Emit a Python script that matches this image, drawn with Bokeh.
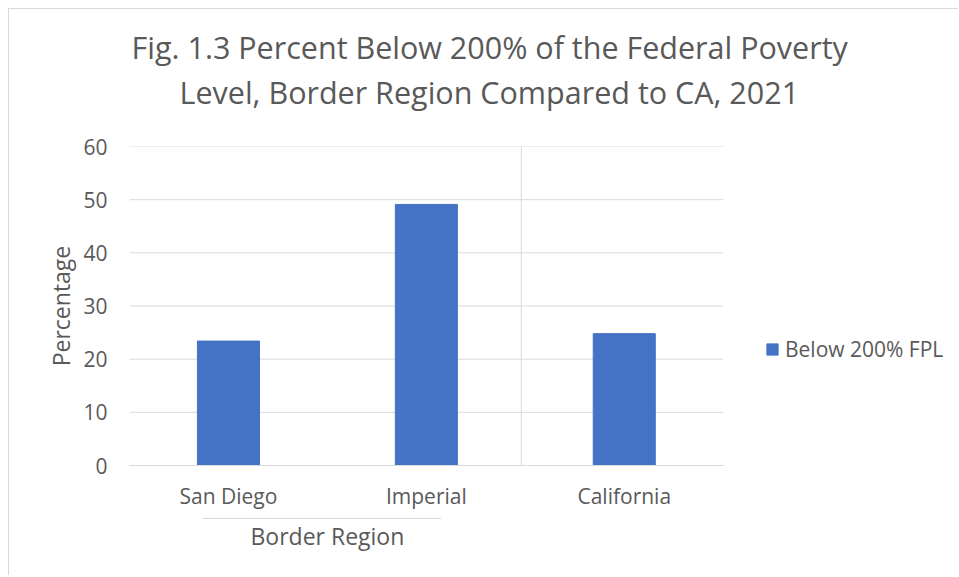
from bokeh.plotting import figure
from bokeh.models import (ColumnDataSource, FixedTicker, Span, Range1d, LinearAxis, Title)
from bokeh.embed import file_html
from bokeh.resources import INLINE

# ---- data ----
categories = ["San Diego", "Imperial", "California"]
values = [23.4, 49.1, 24.8]
series_name = "Below 200% FPL"
group_name = "Border Region"
title_lines = ["Fig. 1.3 Percent Below 200% of the Federal Poverty",
               "Level, Border Region Compared to CA, 2021"]
y_ticks = [0, 10, 20, 30, 40, 50, 60]

FONT = "Open Sans"
TXT = "#595959"
GRID = "#d9d9d9"
BAR = "#4472C4"

n = len(categories)
xpos = [i + 0.5 for i in range(n)]
src = ColumnDataSource(dict(x=xpos, top=values, cat=categories))

# the frame runs to the right edge so that the legend can sit inside it;
# the category area covers x = 0..n
p = figure(width=950, height=567, output_backend="svg", toolbar_location=None,
           x_range=Range1d(0, 4.194), y_range=Range1d(0, 60))
p.min_border_left = 120
p.min_border_right = 0
p.min_border_top = 137
p.min_border_bottom = 111
p.outline_line_color = None
p.background_fill_color = "white"
p.border_fill_color = "white"
p.styles = {"margin-left": "8px", "margin-top": "8px",
            "border-left": f"1px solid {GRID}", "border-top": f"1px solid {GRID}"}

# title: line 1 on top, line 2 (added later) nearest to the frame
p.title.text = title_lines[0]
p.title.align = "left"
p.title.offset = 2
p.title.text_font = FONT
p.title.text_font_size = "30.5px"
p.title.text_font_style = "normal"
p.title.text_color = TXT
p.title.standoff = -67
t2 = Title(text=title_lines[1], align="left", offset=50, text_font=FONT,
           text_font_size="30.5px", text_font_style="normal", text_color=TXT, standoff=68)
p.add_layout(t2, "above")

# horizontal grid lines over the category area only
p.segment(x0=[0] * len(y_ticks), x1=[n] * len(y_ticks), y0=y_ticks, y1=y_ticks,
          line_color=GRID, line_width=1)

p.vbar(x="x", top="top", width=0.3135, source=src, color=BAR, legend_label=series_name)

# category axis
p.xaxis.bounds = (0, n)
p.xaxis.ticker = FixedTicker(ticks=xpos)
p.xaxis.major_label_overrides = {x: c for x, c in zip(xpos, categories)}
p.xaxis.axis_line_color = GRID
p.xaxis.major_tick_line_color = None
p.xaxis.major_tick_out = 0
p.xaxis.minor_tick_line_color = None
p.xaxis.minor_tick_out = 0
p.xaxis.major_label_standoff = 16
p.xaxis.major_label_text_font = FONT
p.xaxis.major_label_text_font_size = "21px"
p.xaxis.major_label_text_color = TXT
p.xaxis.axis_label = " "
p.xaxis.axis_label_text_font_size = "3px"
p.xaxis.axis_label_standoff = 0

# group axis: "Border Region" with its underline
gaxis = LinearAxis(bounds=(0.367, 1.575), ticker=FixedTicker(ticks=[1.0]),
                   major_label_overrides={1.0: group_name})
gaxis.axis_line_color = GRID
gaxis.major_tick_line_color = None
gaxis.major_tick_out = 0
gaxis.minor_tick_line_color = None
gaxis.minor_tick_out = 0
gaxis.major_label_standoff = 1
gaxis.major_label_text_font = FONT
gaxis.major_label_text_font_size = "23px"
gaxis.major_label_text_color = TXT
p.add_layout(gaxis, "below")

# value axis
p.yaxis.ticker = FixedTicker(ticks=y_ticks)
p.yaxis.axis_line_color = None
p.yaxis.major_tick_line_color = None
p.yaxis.major_tick_out = 0
p.yaxis.minor_tick_line_color = None
p.yaxis.minor_tick_out = 0
p.yaxis.major_label_standoff = 22
p.yaxis.major_label_text_font = FONT
p.yaxis.major_label_text_font_size = "21px"
p.yaxis.major_label_text_color = TXT
p.yaxis.axis_label = "Percentage"
p.yaxis.axis_label_text_font = FONT
p.yaxis.axis_label_text_font_size = "23px"
p.yaxis.axis_label_text_font_style = "normal"
p.yaxis.axis_label_text_color = TXT
p.yaxis.axis_label_standoff = 3

p.xgrid.grid_line_color = None
p.ygrid.grid_line_color = None

# separator between border region and California
p.add_layout(Span(location=1.98, dimension="height", line_color=GRID, line_width=1))

# legend
lg = p.legend[0]
lg.location = (636, 102)
lg.padding = 0
lg.margin = 0
lg.spacing = 0
lg.border_line_color = None
lg.background_fill_alpha = 0
lg.glyph_width = 14
lg.glyph_height = 14
lg.label_height = 14
lg.label_standoff = 6
lg.label_text_font = FONT
lg.label_text_font_size = "21px"
lg.label_text_color = TXT

open("out.html", "w").write(file_html(p, INLINE))
